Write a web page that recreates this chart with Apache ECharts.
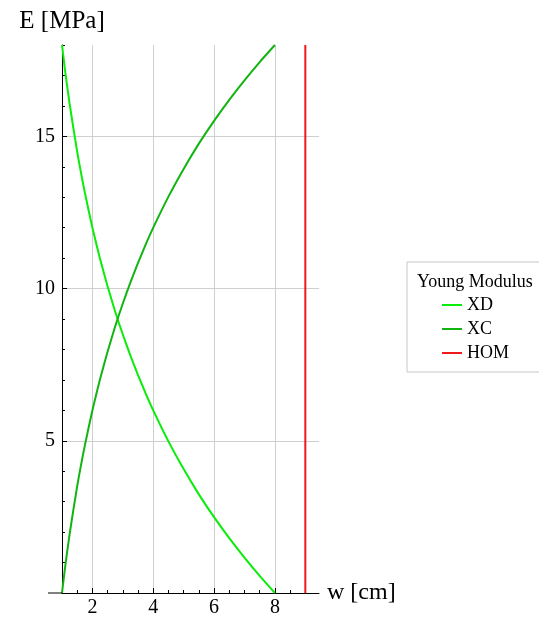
<!DOCTYPE html>
<html>
<head>
<meta charset="utf-8">
<script src="https://cdn.jsdelivr.net/npm/echarts@6/dist/echarts.min.js"></script>
<style>
html,body{margin:0;padding:0;background:#fff;}
#main{width:539px;height:619px;}
</style>
</head>
<body>
<div id="main"></div>
<script>
// ---- data ----
const wValues  = [1, 1.1, 1.25, 1.5, 1.75, 2, 2.25, 2.5, 2.75, 3, 3.25, 3.5, 3.75, 4, 4.5, 5, 5.5, 6, 6.5, 7, 7.5, 8];
const xdValues = [18, 17.17, 16.07, 14.49, 13.16, 12.00, 10.98, 10.07, 9.24, 8.49, 7.80, 7.16, 6.56, 6.00, 4.98, 4.07, 3.24, 2.49, 1.80, 1.16, 0.56, 0];
const xcValues = [0, 0.83, 1.93, 3.51, 4.84, 6.00, 7.02, 7.93, 8.76, 9.51, 10.20, 10.84, 11.44, 12.00, 13.02, 13.93, 14.76, 15.51, 16.20, 16.84, 17.44, 18];
const homW = [9, 9];
const homE = [0, 18];
const seriesNames = ['XD', 'XC', 'HOM'];
const legendTitle = 'Young Modulus';
const xTickLabels = [2, 4, 6, 8];
const xMinorTicks = [1.5, 2.5, 3, 3.5, 4.5, 5, 5.5, 6.5, 7, 7.5, 8.5, 9];
const yTickLabels = [5, 10, 15];
const yMinorTicks = [1, 2, 3, 4, 6, 7, 8, 9, 11, 12, 13, 14, 16, 17, 18];
const xName = 'w [cm]';
const yName = 'E [MPa]';

const pair = (xs, ys) => xs.map((x, i) => [x, ys[i]]);
const FONT = 'Liberation Serif';
const chart = echarts.init(document.getElementById('main'));

const X_MIN = 1, X_MAX = 9.45, Y_MIN = 0, Y_MAX = 18;

chart.setOption({
  animation: false,
  backgroundColor: '#ffffff',
  title: {
    text: legendTitle,
    left: 417, top: 273, padding: 0,
    textStyle: { fontFamily: FONT, fontSize: 18, fontWeight: 'normal', color: '#000' }
  },
  legend: {
    data: seriesNames,
    orient: 'vertical',
    left: 407, top: 262,
    padding: [34, 80, 10, 35],
    itemGap: 6,
    itemWidth: 20,
    itemHeight: 2,
    icon: 'rect',
    borderColor: '#c8c8c8',
    borderWidth: 1,
    backgroundColor: '#fff',
    textStyle: { fontFamily: FONT, fontSize: 18, color: '#000', lineHeight: 18 }
  },
  grid: { left: 62, right: 220, top: 45, bottom: 26, containLabel: false },
  xAxis: [{
    type: 'value', min: X_MIN, max: X_MAX, position: 'bottom',
    name: xName, nameLocation: 'end', nameGap: 8,
    nameTextStyle: { fontFamily: FONT, fontSize: 24, color: '#000', verticalAlign: 'middle' },
    axisLine: { onZero: false, lineStyle: { color: '#000', width: 1 } },
    axisTick: { inside: true, length: 5, customValues: xTickLabels, lineStyle: { color: '#000' } },
    axisLabel: { customValues: xTickLabels, fontFamily: FONT, fontSize: 20, color: '#000', margin: 5 },
    splitLine: { show: true, lineStyle: { color: '#cfcfcf', width: 1 } },
    minorTick: { show: false }
  }, {
    type: 'value', min: X_MIN, max: X_MAX, position: 'bottom',
    axisLine: { show: false },
    axisTick: { inside: true, length: 3, customValues: xMinorTicks, lineStyle: { color: '#000' } },
    axisLabel: { show: false },
    splitLine: { show: false }
  }],
  yAxis: [{
    type: 'value', min: Y_MIN, max: Y_MAX, position: 'left',
    name: yName, nameLocation: 'end', nameGap: 11,
    nameTextStyle: { fontFamily: FONT, fontSize: 25, color: '#000', align: 'center' },
    axisLine: { show: true, onZero: false, lineStyle: { color: '#000', width: 1 } },
    axisTick: { inside: true, length: 5, customValues: yTickLabels, lineStyle: { color: '#000' } },
    axisLabel: { customValues: yTickLabels, fontFamily: FONT, fontSize: 20, color: '#000', margin: 7 },
    splitLine: { show: true, lineStyle: { color: '#cfcfcf', width: 1 } }
  }, {
    type: 'value', min: Y_MIN, max: Y_MAX, position: 'left',
    axisLine: { show: false, onZero: false },
    axisTick: { inside: true, length: 3, customValues: yMinorTicks, lineStyle: { color: '#000' } },
    axisLabel: { show: false },
    splitLine: { show: false }
  }],
  series: [
    {
      name: seriesNames[0], type: 'line', data: pair(wValues, xdValues),
      symbol: 'none', smooth: 0.2, color: '#0aec0a',
      lineStyle: { color: '#0aec0a', width: 2 }, z: 3
    },
    {
      name: seriesNames[1], type: 'line', data: pair(wValues, xcValues),
      symbol: 'none', smooth: 0.2, color: '#12b412',
      lineStyle: { color: '#12b412', width: 2 }, z: 3
    },
    {
      name: seriesNames[2], type: 'line', data: pair(homW, homE),
      symbol: 'none', color: '#f01818',
      lineStyle: { color: '#f01818', width: 2 }, z: 3
    }
  ]
});

// short extension of the horizontal axis to the left of the vertical axis
const origin = chart.convertToPixel({ gridIndex: 0 }, [X_MIN, Y_MIN]);
chart.setOption({
  graphic: [{
    type: 'line', silent: true, z: 10,
    shape: { x1: origin[0] - 14, y1: origin[1], x2: origin[0], y2: origin[1] },
    style: { stroke: '#000', lineWidth: 1 }
  }]
});
</script>
</body>
</html>
